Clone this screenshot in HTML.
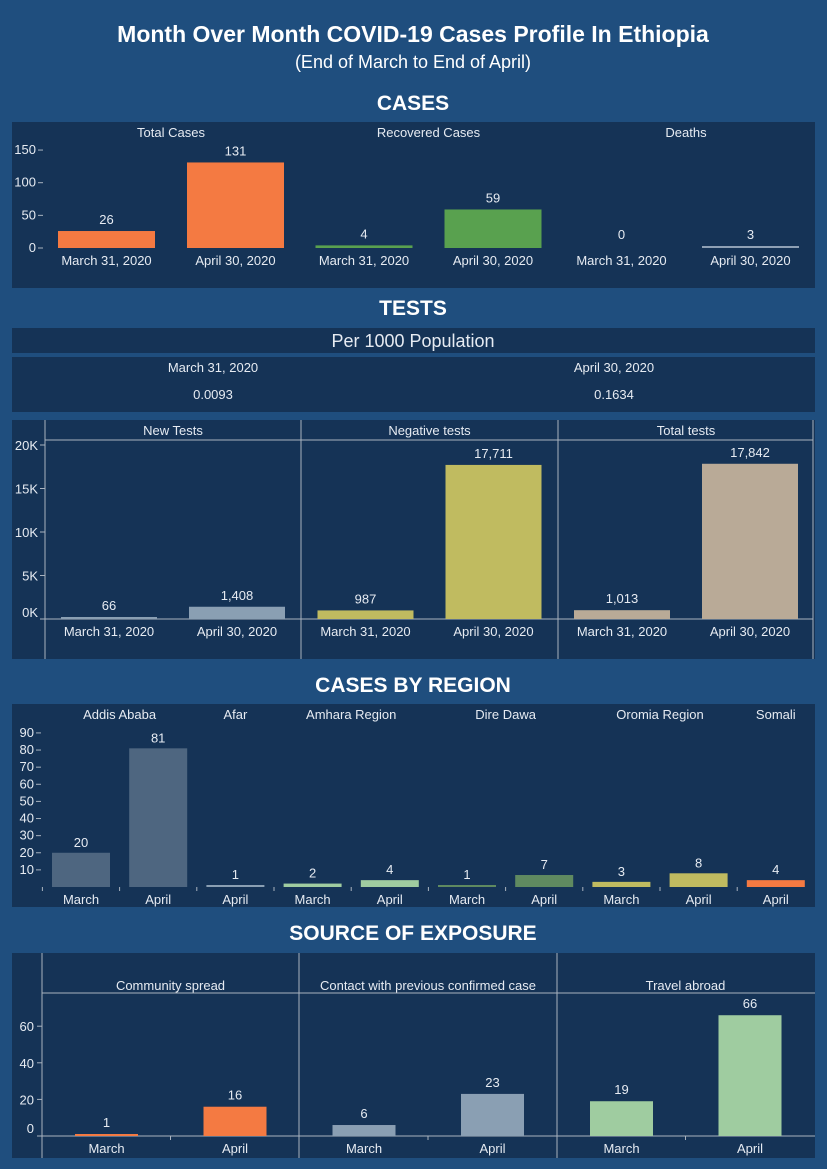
<!DOCTYPE html>
<html><head><meta charset="utf-8"><style>
html,body{margin:0;padding:0;background:#1f4e7e;}
svg{display:block;font-family:"Liberation Sans",sans-serif;}
</style></head><body>
<svg id="s" width="827" height="1169" viewBox="0 0 827 1169" xmlns="http://www.w3.org/2000/svg">
<rect x="0" y="0" width="827" height="1169" fill="#1f4e7e"/>
<text x="413" y="42" text-anchor="middle" fill="#fff" font-size="23" font-weight="bold">Month Over Month COVID-19 Cases Profile In Ethiopia</text>
<text x="413" y="68" text-anchor="middle" fill="#fff" font-size="18">(End of March to End of April)</text>
<text x="413" y="110" text-anchor="middle" fill="#fff" font-size="21" font-weight="bold">CASES</text>
<rect x="12" y="122" width="803" height="166" fill="#153356"/>
<text x="413" y="315" text-anchor="middle" fill="#fff" font-size="21" font-weight="bold">TESTS</text>
<rect x="12" y="328" width="803" height="25" fill="#153356"/>
<text x="413" y="347" text-anchor="middle" fill="#e6ebf2" font-size="18">Per 1000 Population</text>
<rect x="12" y="357" width="803" height="55" fill="#153356"/>
<text x="213" y="372" text-anchor="middle" fill="#e6ebf2" font-size="13">March 31, 2020</text>
<text x="213" y="399" text-anchor="middle" fill="#e6ebf2" font-size="13">0.0093</text>
<text x="614" y="372" text-anchor="middle" fill="#e6ebf2" font-size="13">April 30, 2020</text>
<text x="614" y="399" text-anchor="middle" fill="#e6ebf2" font-size="13">0.1634</text>
<rect x="12" y="420" width="803" height="239" fill="#153356"/>
<text x="413" y="692" text-anchor="middle" fill="#fff" font-size="21" font-weight="bold">CASES BY REGION</text>
<rect x="12" y="704" width="803" height="203" fill="#153356"/>
<text x="413" y="940" text-anchor="middle" fill="#fff" font-size="21" font-weight="bold">SOURCE OF EXPOSURE</text>
<rect x="12" y="953" width="803" height="205" fill="#153356"/>
<g id="g"></g>
</svg>
<script>
// Cases
const caseGroups = ["Total Cases","Recovered Cases","Deaths"];
const caseCats = ["March 31, 2020","April 30, 2020"];
const caseTotal = [26,131];
const caseRecovered = [4,59];
const caseDeaths = [0,3];
const caseTicks = [0,50,100,150];
// Tests
const testGroups = ["New Tests","Negative tests","Total tests"];
const testCats = ["March 31, 2020","April 30, 2020"];
const testNew = [66,1408];
const testNegative = [987,17711];
const testTotal = [1013,17842];
const testTicks = [0,5000,10000,15000,20000];
const testTickLabels = ["0K","5K","10K","15K","20K"];
// Regions
const regionNames = ["Addis Ababa","Addis Ababa","Afar","Amhara Region","Amhara Region","Dire Dawa","Dire Dawa","Oromia Region","Oromia Region","Somali"];
const regionMonths = ["March","April","April","March","April","March","April","March","April","April"];
const regionValues = [20,81,1,2,4,1,7,3,8,4];
const regionTicks = [10,20,30,40,50,60,70,80,90];
// Exposure
const expGroups = ["Community spread","Contact with previous confirmed case","Travel abroad"];
const expCats = ["March","April"];
const expCommunity = [1,16];
const expContact = [6,23];
const expTravel = [19,66];
const expTicks = [0,20,40,60];

const NS="http://www.w3.org/2000/svg";
const G=document.getElementById('g');
const TXT="#e6ebf2", AX="#a9b3bf";
function mk(tag,attrs,txt){const e=document.createElementNS(NS,tag);for(const k in attrs)e.setAttribute(k,attrs[k]);if(txt!==undefined)e.textContent=txt;G.appendChild(e);return e;}
function fmt(v){return v.toLocaleString('en-US');}

// ---- Cases chart
const cY=v=>248-v*0.653;
caseTicks.forEach(t=>{
 const el=mk('text',{x:36,y:cY(t)+4,'text-anchor':'end',fill:TXT,'font-size':13},String(t));
 
 
 const l=mk('line',{x1:38,x2:43,y1:cY(t),y2:cY(t),stroke:AX});
 
 
});
const caseSeries=[caseTotal,caseRecovered,caseDeaths];
const caseColors=["#f47a42","#59a14f","#8ea0b4"];
caseGroups.forEach((g,gi)=>{
 const gx=42+gi*257.5;
 const t=mk('text',{x:gx+129,y:137,'text-anchor':'middle',fill:TXT,'font-size':13},g);
 
 
 caseCats.forEach((c,ci)=>{
  const v=caseSeries[gi][ci];
  const bx=gx+16+ci*129, bw=97;
  if(v>0){
   const h=Math.max(2,v*0.653);
   const r=mk('rect',{x:bx,y:248-h,width:bw,height:h,fill:caseColors[gi]});
   
   
  }
  const lv=mk('text',{x:bx+bw/2,y:248-Math.max(2,v*0.653)-7,'text-anchor':'middle',fill:TXT,'font-size':13},fmt(v));
  
  
  const lc=mk('text',{x:bx+bw/2,y:265,'text-anchor':'middle',fill:TXT,'font-size':13},c);
  
  
 });
});

// ---- Tests chart
const tY=v=>619-v*0.0087;
[45,301,558,813].forEach(x=>{const l=mk('line',{x1:x,x2:x,y1:420,y2:659,stroke:AX});});
{const l=mk('line',{x1:45,x2:813,y1:440,y2:440,stroke:AX});}
{const l=mk('line',{x1:40,x2:813,y1:619,y2:619,stroke:AX});}
testTicks.forEach((t,i)=>{
 const el=mk('text',{x:38,y:tY(t)+(i===0?-2:5),'text-anchor':'end',fill:TXT,'font-size':13},testTickLabels[i]);
 
 
 const l=mk('line',{x1:40,x2:45,y1:tY(t),y2:tY(t),stroke:AX});
 
 
});
const testSeries=[testNew,testNegative,testTotal];
const testColors=[["#8a9fb3","#8a9fb3"],["#c0bb60","#c0bb60"],["#b9aa97","#b9aa97"]];
testGroups.forEach((g,gi)=>{
 const gx=45+gi*256.5;
 const t=mk('text',{x:gx+128,y:435,'text-anchor':'middle',fill:TXT,'font-size':13},g);
 
 
 testCats.forEach((c,ci)=>{
  const v=testSeries[gi][ci];
  const bx=gx+16+ci*128, bw=96;
  const h=Math.max(2,v*0.0087);
  const r=mk('rect',{x:bx,y:619-h,width:bw,height:h,fill:testColors[gi][ci]});
  
  
  const lv=mk('text',{x:bx+bw/2,y:619-h-7,'text-anchor':'middle',fill:TXT,'font-size':13},fmt(v));
  
  
  const lc=mk('text',{x:bx+bw/2,y:636,'text-anchor':'middle',fill:TXT,'font-size':13},c);
  
  
 });
});

// ---- Region chart
const rY=v=>887-v*1.712;
regionTicks.forEach(t=>{
 const el=mk('text',{x:34,y:rY(t)+4,'text-anchor':'end',fill:TXT,'font-size':13},String(t));
 
 
 const l=mk('line',{x1:36,x2:41,y1:rY(t),y2:rY(t),stroke:AX});
 
 
});
const regionColors={"Addis Ababa":"#4e6680","Afar":"#8a9fb3","Amhara Region":"#9fcca0","Dire Dawa":"#5f8a60","Oromia Region":"#c0bb60","Somali":"#f47a42"};
let prev=null,start=0;
const step=77.2;
regionValues.forEach((v,i)=>{
 const bx=52+i*step, bw=58;
 const h=Math.max(2,v*1.712);
 const r=mk('rect',{x:bx,y:887-h,width:bw,height:h,fill:regionColors[regionNames[i]]});
 
 
 const lv=mk('text',{x:bx+bw/2,y:887-h-6,'text-anchor':'middle',fill:TXT,'font-size':13},String(v));
 
 
 const lc=mk('text',{x:bx+bw/2,y:904,'text-anchor':'middle',fill:TXT,'font-size':13},regionMonths[i]);
 
 
 const tk=mk('line',{x1:bx-9.6,x2:bx-9.6,y1:887,y2:891,stroke:AX});
 
 
});
// group titles
const seen=[];
regionNames.forEach((n,i)=>{if(!seen.includes(n))seen.push(n);});
seen.forEach(n=>{
 const idx=regionNames.map((x,i)=>x===n?i:-1).filter(i=>i>=0);
 const cx=52+29+(idx[0]+idx[idx.length-1])/2*step;
 const t=mk('text',{x:cx,y:719,'text-anchor':'middle',fill:TXT,'font-size':13},n);
 
 
});

// ---- Exposure chart
const eY=v=>1136-v*1.83;
[42,299,557].forEach(x=>{const l=mk('line',{x1:x,x2:x,y1:953,y2:1158,stroke:AX});});
{const l=mk('line',{x1:42,x2:815,y1:993,y2:993,stroke:AX});}
{const l=mk('line',{x1:37,x2:815,y1:1136,y2:1136,stroke:AX});}
expTicks.forEach(t=>{
 const el=mk('text',{x:34,y:eY(t)+(t===0?-3:5),'text-anchor':'end',fill:TXT,'font-size':13},String(t));
 
 
 const l=mk('line',{x1:37,x2:42,y1:eY(t),y2:eY(t),stroke:AX});
 
 
});
const expSeries=[expCommunity,expContact,expTravel];
const expColors=["#f47a42","#8a9fb3","#9fcca0"];
expGroups.forEach((g,gi)=>{
 const gx=42+gi*257.5;
 const t=mk('text',{x:gx+128.5,y:990,'text-anchor':'middle',fill:TXT,'font-size':13},g);
 
 
 const tk=mk('line',{x1:gx+128.5,x2:gx+128.5,y1:1136,y2:1140,stroke:AX});
 
 
 expCats.forEach((c,ci)=>{
  const v=expSeries[gi][ci];
  const bx=gx+33+ci*128.5, bw=63;
  const h=Math.max(2,v*1.83);
  const r=mk('rect',{x:bx,y:1136-h,width:bw,height:h,fill:expColors[gi]});
  
  
  const lv=mk('text',{x:bx+bw/2,y:1136-h-7,'text-anchor':'middle',fill:TXT,'font-size':13},String(v));
  
  
  const lc=mk('text',{x:bx+bw/2,y:1153,'text-anchor':'middle',fill:TXT,'font-size':13},c);
  
  
 });
});
</script>
</body></html>
